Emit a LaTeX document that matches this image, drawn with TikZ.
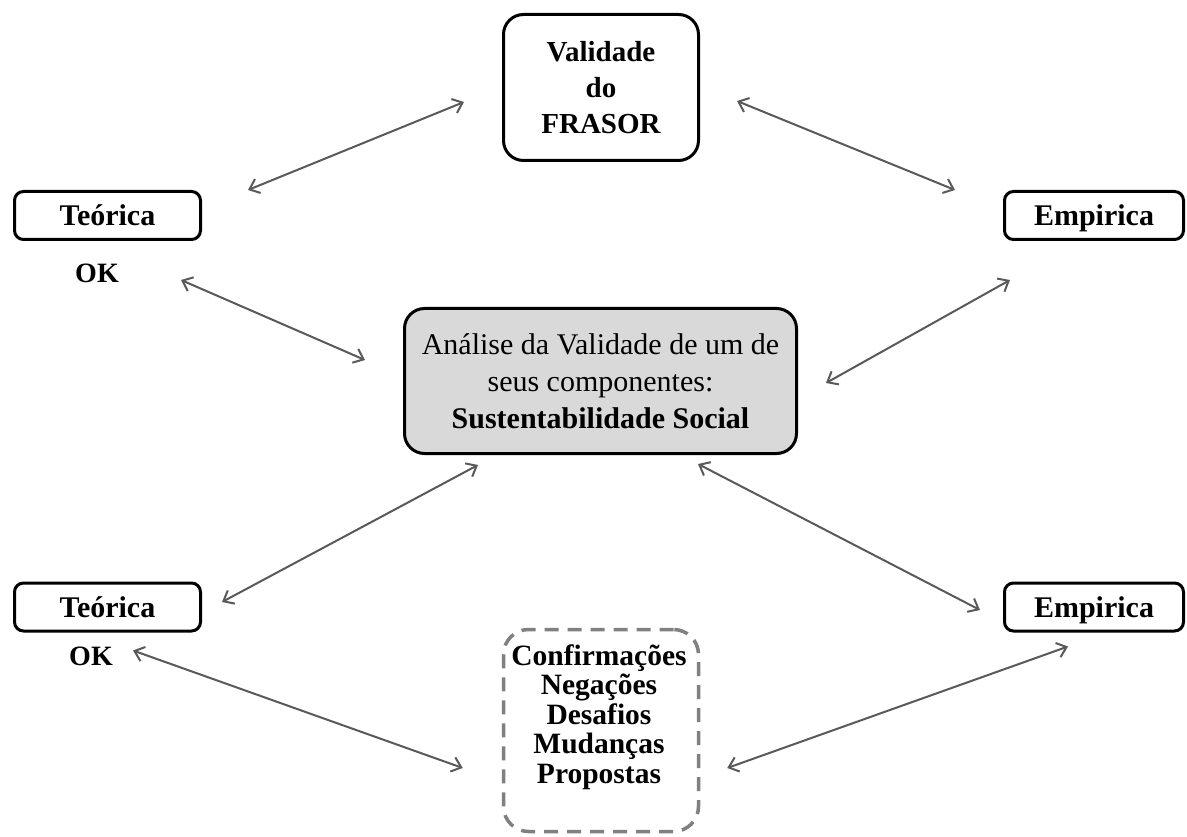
\documentclass[tikz,border=0pt]{standalone}
\usepackage{fontspec}
\setmainfont{Liberation Serif}
\usetikzlibrary{arrows.meta,calc}
\definecolor{arrowgray}{HTML}{595959}
\definecolor{boxgray}{HTML}{D9D9D9}
\definecolor{dashgray}{HTML}{808080}
\begin{document}
\begin{tikzpicture}[x=1pt,y=-1pt,
  box/.style={draw=black, line width=3pt, rounded corners=9pt, inner sep=0pt,
    font=\fontsize{28}{30}\selectfont\bfseries, align=center},
  smallbox/.style={box, minimum height=48pt, font=\fontsize{30}{32}\selectfont\bfseries,
    text height=25pt, text depth=4pt},
  oklabel/.style={inner sep=0pt, font=\fontsize{28}{30}\selectfont\bfseries},
  link/.style={draw=arrowgray, line width=2pt,
    {Straight Barb[length=9pt,width=15pt]}-{Straight Barb[length=9pt,width=15pt]}}
]
\useasboundingbox (0,0) rectangle (1187,837);

\node[box, rounded corners=20pt, minimum width=195pt, minimum height=146pt,
  font=\fontsize{29}{36}\selectfont\bfseries] (frasor) at (601,87.5) {Validade\\do\\FRASOR};
\node[smallbox, minimum width=186pt] (t1) at (107.5,215.5) {Teórica};
\node[smallbox, minimum width=179pt] (e1) at (1094,215.5) {Empirica};
\node[oklabel] (ok1) at (97,273) {OK};

\node[box, fill=boxgray, rounded corners=20pt, minimum width=392pt, minimum height=145pt,
  font=\fontsize{30}{37}\selectfont] (c) at (600.5,381)
  {Análise da Validade de um de\\seus componentes:\\\textbf{Sustentabilidade Social}};

\node[smallbox, minimum width=186pt] (t2) at (107.5,607) {Teórica};
\node[smallbox, minimum width=179pt] (e2) at (1094,607) {Empirica};
\node[oklabel] (ok2) at (91,656) {OK};

\node[draw=dashgray, line width=3.5pt, dash pattern=on 14pt off 9pt, rounded corners=25pt,
  minimum width=195pt, minimum height=202pt, inner sep=0pt] (d) at (601,730.5) {};
\node[inner sep=0pt, align=center, font=\fontsize{29.5}{29.5}\selectfont\bfseries] (dtext) at (599,717)
  {Confirmações\\Negações\\Desafios\\Mudanças\\Propostas};

\draw[link] ($(t1.north east)+(46,0)$) -- ($(frasor.west)+(-38,14.5)$);
\draw[link] ($(frasor.east)+(37,13.5)$) -- ($(e1.north west)+(-48,0)$);
\draw[link] ($(t1.south east)+(-21,39)$) -- ($(c.west)+(-38,-21)$);
\draw[link] ($(e1.south west)+(7,39)$) -- ($(c.east)+(28,2)$);
\draw[link] ($(c.south)+(-122.5,10)$) -- ($(t2.east)+(20,-5)$);
\draw[link] ($(c.south)+(97.5,9)$) -- ($(e2.west)+(-23,3)$);
\draw[link] ($(t2.south east)+(-69,18)$) -- ($(d.west)+(-39,37.5)$);
\draw[link] ($(e2.south)+(-26,14)$) -- ($(d.east)+(27,37.5)$);
\end{tikzpicture}
\end{document}
